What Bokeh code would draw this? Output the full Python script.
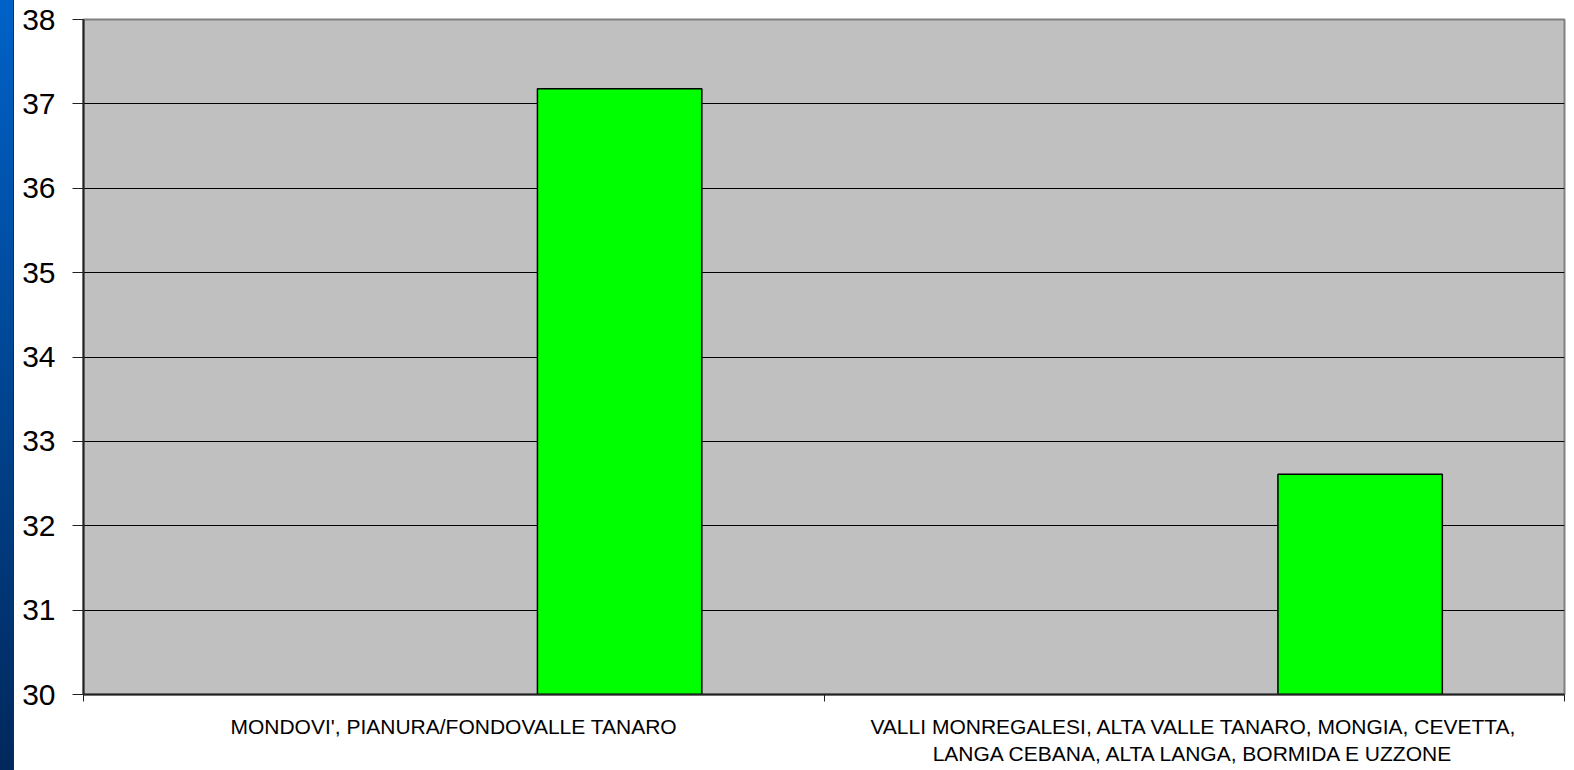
import numpy as np
from bokeh.plotting import figure
from bokeh.models import Range1d, FixedTicker, ColumnDataSource
from bokeh.embed import file_html
from bokeh.resources import INLINE

# ---- data ----
categories = [
    "MONDOVI', PIANURA/FONDOVALLE TANARO",
    "VALLI MONREGALESI, ALTA VALLE TANARO, MONGIA, CEVETTA,\nLANGA CEBANA, ALTA LANGA, BORMIDA E UZZONE",
]
values = [37.18, 32.61]
y_ticks = [30, 31, 32, 33, 34, 35, 36, 37, 38]

# ---- layout ----
n = len(categories)
band_centers = np.arange(n) + 0.5
bar_offset = 0.224
bar_width = 0.222

src = ColumnDataSource(dict(x=band_centers + bar_offset, top=values, cat=categories))

p = figure(
    width=1558, height=768,
    x_range=Range1d(0, n), y_range=Range1d(30, 38),
    output_backend="svg", toolbar_location=None,
    min_border_left=75, min_border_right=2, min_border_top=19, min_border_bottom=74,
    background_fill_color="#C0C0C0", border_fill_color=None,
)
p.outline_line_color = "#808080"
p.outline_line_width = 2

p.vbar(x="x", top="top", bottom=30, width=bar_width, source=src,
       fill_color="#00FF00", line_color="#000000", line_width=1.5)

# y axis
p.yaxis.ticker = FixedTicker(ticks=y_ticks)
p.yaxis.major_label_text_font = "Liberation Sans"
p.yaxis.major_label_text_font_size = "30px"
p.yaxis.major_label_text_color = "#000000"
p.yaxis.major_tick_out = 11
p.yaxis.major_tick_in = 0
p.yaxis.minor_tick_line_color = None
p.yaxis.major_tick_line_color = "#222222"
p.yaxis.axis_line_color = "#222222"
p.yaxis.axis_line_width = 2
p.yaxis.major_label_standoff = 17

# x axis: labels at band centres, tick marks at band boundaries
p.xaxis.ticker = FixedTicker(ticks=list(band_centers), minor_ticks=list(range(n + 1)))
p.xaxis.major_label_overrides = {float(c): lab for c, lab in zip(band_centers, categories)}
p.xaxis.major_tick_line_color = None
p.xaxis.minor_tick_line_color = "#222222"
p.xaxis.minor_tick_out = 7
p.xaxis.minor_tick_in = 0
p.xaxis.axis_line_color = "#222222"
p.xaxis.axis_line_width = 2
p.xaxis.major_label_text_font = "Liberation Sans"
p.xaxis.major_label_text_font_size = "21px"
p.xaxis.major_label_text_color = "#000000"
p.xaxis.major_label_standoff = 13

p.xgrid.grid_line_color = None
p.ygrid.ticker = FixedTicker(ticks=y_ticks)
p.ygrid.grid_line_color = "#000000"
p.ygrid.grid_line_width = 1

html = file_html(p, INLINE)
style = ("<style>html,body{margin:0;padding:0;overflow:hidden;}"
         "body{margin:0 8px;}"
         "html{background:linear-gradient(to right, transparent 13px, #1a2a44 13px, #1a2a44 14px, #ffffff 14px),"
         "linear-gradient(to bottom, #0062c8, #00285c);min-height:100%;}</style>")
html = html.replace("</head>", style + "</head>", 1)
open("out.html", "w").write(html)
